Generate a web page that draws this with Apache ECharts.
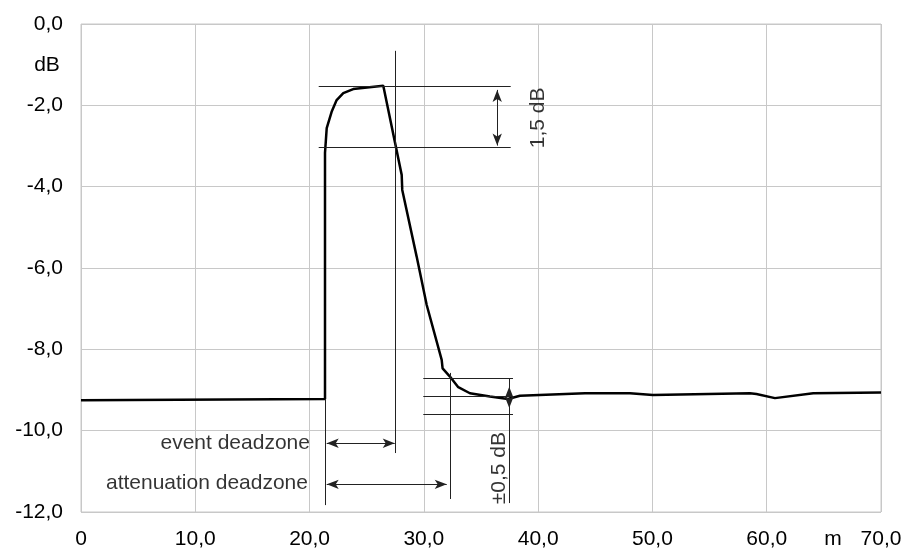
<!DOCTYPE html>
<html>
<head>
<meta charset="utf-8">
<script src="https://cdn.jsdelivr.net/npm/echarts@6/dist/echarts.min.js"></script>
<style>html,body{margin:0;padding:0;background:#fff;}#c{width:911px;height:551px;}</style>
</head>
<body>
<div id="c"></div>
<script>
// Trace: distance (m) and level (dB)
const distance = [0, 21.35, 21.35, 21.5, 21.93, 22.37, 22.95, 23.82, 26.45, 28.06, 28.11, 29.37, 30.25, 31.56, 31.64, 32.28, 33.01, 34.03, 35.78, 37.36, 38.41, 44.1, 48.03, 50.04, 58.53, 59.1, 60.72, 64.07, 70];
const level = [-9.25, -9.22, -3.17, -2.56, -2.16, -1.87, -1.70, -1.60, -1.52, -3.71, -4.08, -5.72, -6.91, -8.26, -8.47, -8.67, -8.93, -9.08, -9.16, -9.22, -9.14, -9.08, -9.08, -9.12, -9.08, -9.10, -9.20, -9.08, -9.06];

// Axis ticks
const xTicks = [0, 10, 20, 30, 40, 50, 60, 70];
const yTicks = [0, -2, -4, -6, -8, -10, -12];

// Annotation segments [x1, y1, x2, y2]
const plainSegments = [
  [20.8, -1.53, 37.6, -1.53],
  [20.8, -3.03, 37.6, -3.03],
  [29.95, -8.71, 37.8, -8.71],
  [29.95, -9.15, 37.8, -9.15],
  [29.95, -9.59, 37.8, -9.59],
  [21.35, -9.22, 21.35, -11.83],
  [27.53, -0.66, 27.53, -10.55],
  [32.28, -8.58, 32.28, -11.68],
  [37.47, -8.71, 37.47, -11.78]
];
const arrowSegments = [
  [36.42, -1.62, 36.42, -2.99],
  [37.47, -8.92, 37.47, -9.44],
  [21.5, -10.31, 27.45, -10.31],
  [21.5, -11.32, 32.0, -11.32]
];
// Text annotations [x, y, text, rotate, align]
const notes = [
  [39.98, -2.31, '1,5 dB', 90, 'center'],
  [36.57, -10.92, '±0,5 dB', 90, 'center'],
  [20.03, -10.30, 'event deadzone', 0, 'right'],
  [19.86, -11.29, 'attenuation deadzone', 0, 'right']
];

const FONT = 'Liberation Sans';
const FS = 21;
const fmt = v => v.toFixed(1).replace('.', ',');

const chart = echarts.init(document.getElementById('c'), null, {renderer: 'canvas'});
const curve = distance.map((d, i) => [d, level[i]]);

const mlData = [];
plainSegments.forEach(s => mlData.push([
  {coord: [s[0], s[1]], symbol: 'none'},
  {coord: [s[2], s[3]], symbol: 'none'}
]));
arrowSegments.forEach(s => mlData.push([
  {coord: [s[0], s[1]], symbol: 'arrow', symbolSize: [7, 12]},
  {coord: [s[2], s[3]], symbol: 'arrow', symbolSize: [7, 12]}
]));

chart.setOption({
  animation: false,
  backgroundColor: '#fff',
  grid: {left: 81, top: 24, width: 800, height: 488, show: true, borderColor: '#c8c8c8', borderWidth: 1},
  xAxis: {
    type: 'value', min: xTicks[0], max: xTicks[xTicks.length - 1], interval: 10,
    axisLine: {show: false}, axisTick: {show: false},
    splitLine: {show: true, lineStyle: {color: '#c8c8c8', width: 1}},
    axisLabel: {color: '#000', fontFamily: FONT, fontSize: FS, margin: 17,
      formatter: v => (v === 0 ? '0' : fmt(v))}
  },
  yAxis: {
    type: 'value', min: yTicks[yTicks.length - 1], max: yTicks[0], interval: 2,
    axisLine: {show: false}, axisTick: {show: false},
    splitLine: {show: true, lineStyle: {color: '#c8c8c8', width: 1}},
    axisLabel: {color: '#000', fontFamily: FONT, fontSize: FS, margin: 18, formatter: v => fmt(v)}
  },
  graphic: [
    {type: 'text', x: 47, y: 65, style: {text: 'dB', fill: '#000', font: FS + 'px "' + FONT + '"', textAlign: 'center', textVerticalAlign: 'middle'}},
    {type: 'text', x: 833, y: 539, style: {text: 'm', fill: '#000', font: FS + 'px "' + FONT + '"', textAlign: 'center', textVerticalAlign: 'middle'}}
  ],
  series: [
    {
      type: 'line', data: curve, symbol: 'none', smooth: false, z: 3,
      lineStyle: {color: '#000', width: 2.5},
      markLine: {
        silent: true, animation: false, symbol: 'none',
        label: {show: false},
        emphasis: {disabled: true},
        lineStyle: {color: '#222', width: 1, type: 'solid'},
        data: mlData
      }
    },
    {
      type: 'scatter', symbolSize: 0, silent: true, clip: false, z: 4,
      data: notes.map(n => ({
        value: [n[0], n[1]],
        label: {
          show: true, position: [0, 0], formatter: n[2], rotate: n[3],
          align: n[4], verticalAlign: 'middle',
          color: '#000', fontFamily: FONT, fontSize: FS
        }
      }))
    }
  ]
});
</script>
</body>
</html>
